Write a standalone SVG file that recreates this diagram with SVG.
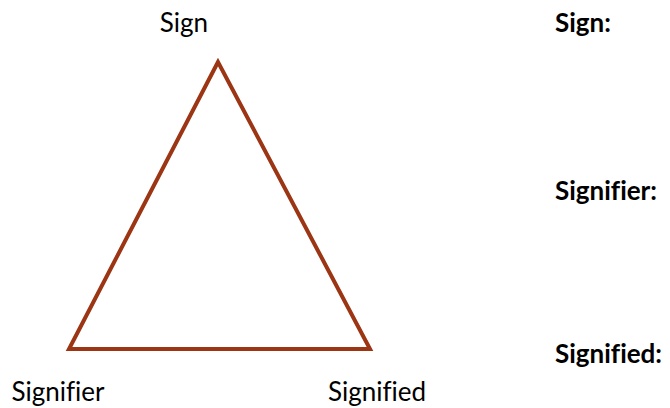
<svg xmlns="http://www.w3.org/2000/svg" width="670" height="408" viewBox="0 0 670 408">
<style>
.t{font-family:Lato,"Liberation Sans",sans-serif;font-size:26px;fill:#000;font-variant-ligatures:none}
.b{font-weight:bold}
</style>
<rect width="670" height="408" fill="#fff"/>
<g id="connectors">
<polygon points="218,62 69,349 370,349" fill="none" stroke="#9C3514" stroke-width="4" stroke-linejoin="miter"/>
</g>
<g id="sign"><text class="t" x="184" y="32" text-anchor="middle">Sign</text></g>
<g id="signifier"><text class="t" x="58" y="401" text-anchor="middle">Signifier</text></g>
<g id="signified"><text class="t" x="377" y="401" text-anchor="middle">Signified</text></g>
<g id="legend">
<text class="t b" x="555" y="32">Sign:</text>
<text class="t b" x="555" y="200">Signifier:</text>
<text class="t b" x="555" y="363">Signified:</text>
</g>
</svg>
